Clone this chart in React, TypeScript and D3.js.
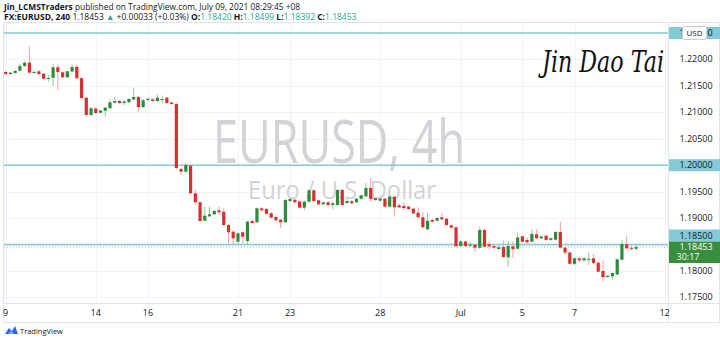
import React from 'react';
import * as d3 from 'd3';

// EURUSD 4h bars, Jun 9 2021 (index 0) .. Jul 9 2021 05:00 (+08)
const opens = [
  1.21762, 1.21724, 1.21743, 1.21786, 1.21875, 1.21938, 1.21749, 1.21775, 1.21730, 1.21635,
  1.21654, 1.21851, 1.21756, 1.21662, 1.21771, 1.21860, 1.21645, 1.21276, 1.20949, 1.21072,
  1.20992, 1.21028, 1.21078, 1.21182, 1.21214, 1.21176, 1.21191, 1.21242, 1.21289, 1.21100,
  1.21233, 1.21246, 1.21214, 1.21233, 1.21276, 1.21185, 1.21157, 1.19928, 1.19877, 1.19991,
  1.19469, 1.19299, 1.18951, 1.19034, 1.19072, 1.19148, 1.19121, 1.18870, 1.18743, 1.18554,
  1.18732, 1.18567, 1.18945, 1.18921, 1.19185, 1.19172, 1.19091, 1.19021, 1.18970, 1.18921,
  1.19323, 1.19348, 1.19314, 1.19197, 1.19310, 1.19526, 1.19337, 1.19261, 1.19299, 1.19248,
  1.19248, 1.19531, 1.19286, 1.19318, 1.19299, 1.19367, 1.19412, 1.19569, 1.19374, 1.19329,
  1.19367, 1.19216, 1.19405, 1.19242, 1.19229, 1.19216, 1.19178, 1.19102, 1.19015, 1.18788,
  1.18964, 1.18951, 1.19015, 1.18989, 1.18864, 1.18826, 1.18473, 1.18558, 1.18482, 1.18497,
  1.18441, 1.18775, 1.18505, 1.18473, 1.18416, 1.18454, 1.18259, 1.18467, 1.18422, 1.18656,
  1.18587, 1.18554, 1.18694, 1.18618, 1.18667, 1.18587, 1.18592, 1.18737, 1.18441, 1.18350,
  1.18136, 1.18240, 1.18202, 1.18214, 1.18240, 1.18157, 1.18000, 1.17887, 1.17900, 1.17934,
  1.18214, 1.18505, 1.18441, 1.18420,
];
const highs = [
  1.21781, 1.21762, 1.21800, 1.21913, 1.21970, 1.22235, 1.21781, 1.21790, 1.21743, 1.21705,
  1.21913, 1.21904, 1.21771, 1.21790, 1.21904, 1.21904, 1.21658, 1.21289, 1.21100, 1.21091,
  1.21044, 1.21100, 1.21252, 1.21289, 1.21233, 1.21233, 1.21270, 1.21465, 1.21308, 1.21252,
  1.21270, 1.21261, 1.21340, 1.21318, 1.21289, 1.21204, 1.21176, 1.19947, 1.20042, 1.20023,
  1.19531, 1.19314, 1.19216, 1.19216, 1.19153, 1.19216, 1.19185, 1.18889, 1.18766, 1.18728,
  1.18747, 1.18955, 1.18964, 1.19200, 1.19210, 1.19191, 1.19115, 1.19040, 1.18983, 1.19361,
  1.19380, 1.19361, 1.19333, 1.19333, 1.19541, 1.19541, 1.19352, 1.19314, 1.19314, 1.19304,
  1.19550, 1.19550, 1.19361, 1.19342, 1.19380, 1.19446, 1.19664, 1.19752, 1.19390, 1.19380,
  1.19380, 1.19418, 1.19418, 1.19280, 1.19291, 1.19229, 1.19191, 1.19204, 1.19121, 1.19102,
  1.18983, 1.19021, 1.19091, 1.19002, 1.18879, 1.18841, 1.18577, 1.18577, 1.18548, 1.18510,
  1.18837, 1.18794, 1.18554, 1.18492, 1.18501, 1.18573, 1.18567, 1.18567, 1.18728, 1.18671,
  1.18637, 1.18788, 1.18788, 1.18671, 1.18681, 1.18633, 1.18756, 1.18940, 1.18454, 1.18359,
  1.18255, 1.18259, 1.18270, 1.18354, 1.18321, 1.18189, 1.18208, 1.17924, 1.17972, 1.18236,
  1.18586, 1.18671, 1.18492, 1.18499,
];
const lows = [
  1.21705, 1.21705, 1.21724, 1.21771, 1.21856, 1.21734, 1.21734, 1.21705, 1.21611, 1.21573,
  1.21497, 1.21422, 1.21649, 1.21649, 1.21762, 1.21630, 1.21252, 1.20911, 1.20930, 1.20968,
  1.20977, 1.20917, 1.21062, 1.21166, 1.21157, 1.21138, 1.21176, 1.21233, 1.21011, 1.21081,
  1.21214, 1.21195, 1.21195, 1.21176, 1.21157, 1.21138, 1.19928, 1.19815, 1.19862, 1.19456,
  1.19248, 1.18926, 1.18945, 1.19021, 1.19059, 1.19059, 1.18851, 1.18529, 1.18492, 1.18492,
  1.18524, 1.18510, 1.18889, 1.18907, 1.19125, 1.19068, 1.18993, 1.18945, 1.18813, 1.18907,
  1.19304, 1.19286, 1.19182, 1.19153, 1.19295, 1.19304, 1.19248, 1.19248, 1.19229, 1.19163,
  1.19229, 1.19229, 1.19267, 1.19267, 1.19286, 1.19342, 1.19399, 1.19310, 1.19327, 1.19314,
  1.19200, 1.19200, 1.19027, 1.19191, 1.19153, 1.19153, 1.19078, 1.19002, 1.18813, 1.18775,
  1.18917, 1.18936, 1.18964, 1.18851, 1.18803, 1.18454, 1.18454, 1.18454, 1.18454, 1.18365,
  1.18416, 1.18444, 1.18410, 1.18416, 1.18397, 1.18246, 1.18076, 1.18251, 1.18406, 1.18539,
  1.18492, 1.18539, 1.18605, 1.18605, 1.18567, 1.18567, 1.18577, 1.18425, 1.18316, 1.18123,
  1.18104, 1.18165, 1.18176, 1.18113, 1.18132, 1.17972, 1.17802, 1.17868, 1.17836, 1.17919,
  1.18199, 1.18416, 1.18388, 1.18392,
];
const closes = [
  1.21724, 1.21749, 1.21781, 1.21875, 1.21938, 1.21749, 1.21762, 1.21724, 1.21635, 1.21649,
  1.21851, 1.21762, 1.21662, 1.21775, 1.21856, 1.21645, 1.21270, 1.20949, 1.21076, 1.20987,
  1.21034, 1.21087, 1.21189, 1.21214, 1.21176, 1.21204, 1.21252, 1.21289, 1.21100, 1.21227,
  1.21257, 1.21214, 1.21276, 1.21252, 1.21176, 1.21157, 1.19947, 1.19877, 1.20004, 1.19469,
  1.19299, 1.18945, 1.19045, 1.19072, 1.19134, 1.19110, 1.18870, 1.18732, 1.18618, 1.18713,
  1.18648, 1.18932, 1.18907, 1.19185, 1.19148, 1.19083, 1.19008, 1.18959, 1.18921, 1.19342,
  1.19361, 1.19299, 1.19197, 1.19310, 1.19526, 1.19323, 1.19261, 1.19299, 1.19248, 1.19280,
  1.19531, 1.19248, 1.19323, 1.19280, 1.19367, 1.19431, 1.19569, 1.19361, 1.19342, 1.19367,
  1.19216, 1.19405, 1.19204, 1.19204, 1.19191, 1.19172, 1.19091, 1.19015, 1.18826, 1.18951,
  1.18932, 1.19002, 1.18977, 1.18870, 1.18819, 1.18467, 1.18558, 1.18473, 1.18505, 1.18441,
  1.18775, 1.18459, 1.18467, 1.18441, 1.18448, 1.18265, 1.18473, 1.18416, 1.18633, 1.18554,
  1.18543, 1.18700, 1.18618, 1.18652, 1.18587, 1.18618, 1.18737, 1.18441, 1.18350, 1.18136,
  1.18240, 1.18202, 1.18240, 1.18232, 1.18151, 1.17987, 1.17883, 1.17911, 1.17962, 1.18221,
  1.18510, 1.18429, 1.18420, 1.18453,
];

const timeTickIndex = [0, 19, 30, 49, 60, 79, 96, 109, 120, 139];
const timeTickLabels = ['9', '14', '16', '21', '23', '28', 'Jul', '5', '7', '12'];
const priceTicks = [1.175, 1.18, 1.185, 1.19, 1.195, 1.2, 1.205, 1.21, 1.215, 1.22, 1.225];
const levelLines = [1.225, 1.2, 1.185];
const lastPrice = 1.18453;
const countdown = '30:17';

const W = 720;
const H = 341;
const paneL = 3;
const paneR = 668;
const paneT = 22;
const paneB = 303;
const axisB = 322;

const UP = '#2e8b3c';
const DOWN = '#d9302f';
const UP_WICK = '#93c996';
const DOWN_WICK = '#f1a2a6';
const LEVEL = '#84cad8';
const FONT = "'Open Sans', 'Noto Sans', sans-serif";

export default function App() {
  const x = d3.scaleLinear().domain([0, 139]).range([5.7, 664.6]);
  const y = d3.scaleLinear().domain([1.175, 1.225]).range([297.45, 32.95]);
  const fmt = d3.format('.5f');
  const bodyW = 3.2;

  return (
    <svg
      width={W}
      height={H}
      style={{ position: 'absolute', left: 0, top: 0, background: '#fff' }}
      fontFamily={FONT}
    >
      <rect x={0} y={0} width={W} height={H} fill="#fff" />
      {/* header */}
      <text x={4} y={9.5} fontSize={8.4} fill="#131722">
        <tspan fontWeight="bold">Jin_LCMSTraders</tspan>
        <tspan> published on TradingView.com, July 09, 2021 08:29:45 +08</tspan>
      </text>
      <text x={4} y={19.5} fontSize={8.5} fill="#131722">
        <tspan fontWeight="bold">FX:EURUSD, 240</tspan>
        <tspan> 1.18453 </tspan>
        <tspan fill="#22ab94">▲</tspan>
        <tspan> +0.00033 (+0.03%) </tspan>
        <tspan fontWeight="bold">O:</tspan>
        <tspan fill="#22ab94">1.18420 </tspan>
        <tspan fontWeight="bold">H:</tspan>
        <tspan fill="#22ab94">1.18499 </tspan>
        <tspan fontWeight="bold">L:</tspan>
        <tspan fill="#22ab94">1.18392 </tspan>
        <tspan fontWeight="bold">C:</tspan>
        <tspan fill="#22ab94">1.18453</tspan>
      </text>

      {/* frame */}
      <rect x={paneL + 0.5} y={paneT + 0.5} width={W - paneL - 1} height={axisB - paneT} fill="none" stroke="#e0e3eb" />
      <line x1={paneR + 0.5} x2={paneR + 0.5} y1={paneT} y2={axisB} stroke="#e0e3eb" />
      <line x1={paneL} x2={W} y1={paneB + 0.5} y2={paneB + 0.5} stroke="#e0e3eb" />

      {/* grid */}
      {timeTickIndex.map((t) => (
        <line key={'vg' + t} x1={Math.round(x(t)) + 0.5} x2={Math.round(x(t)) + 0.5} y1={paneT + 1} y2={paneB} stroke="#f0f3fa" />
      ))}
      {priceTicks.map((p) => (
        <line key={'hg' + p} x1={paneL + 1} x2={paneR} y1={Math.round(y(p)) + 0.5} y2={Math.round(y(p)) + 0.5} stroke="#f0f3fa" />
      ))}

      {/* watermark */}
      <text x={213} y={163} fontSize={60} fill="#d2d3d6" textLength={252} lengthAdjust="spacingAndGlyphs">
        EURUSD, 4h
      </text>
      <text x={248} y={199} fontSize={25} fill="#d2d3d6" textLength={188} lengthAdjust="spacingAndGlyphs">
        Euro / U.S. Dollar
      </text>

      {/* signature */}
      <text x={542} y={72} fontSize={30} fontStyle="italic" fill="#111" fontFamily="'DejaVu Serif', serif" textLength={122} lengthAdjust="spacingAndGlyphs">
        Jin Dao Tai
      </text>

      {/* level lines */}
      {levelLines.map((p) => (
        <line key={'lv' + p} x1={paneL + 1} x2={paneR} y1={y(p)} y2={y(p)} stroke={LEVEL} strokeWidth={1.6} />
      ))}

      {/* last price dotted line */}
      <line x1={paneL + 1} x2={paneR} y1={y(lastPrice)} y2={y(lastPrice)} stroke={UP} strokeOpacity={0.45} strokeDasharray="1 2" />

      {/* candles */}
      {closes.map((c, i) => {
        const o = opens[i];
        const up = c >= o;
        const cx = x(i);
        const top = y(Math.max(o, c));
        const bot = y(Math.min(o, c));
        return (
          <g key={'c' + i}>
            <line x1={cx} x2={cx} y1={y(highs[i])} y2={y(lows[i])} stroke={up ? UP_WICK : DOWN_WICK} strokeWidth={1} />
            <rect x={cx - bodyW / 2} y={top} width={bodyW} height={Math.max(1, bot - top)} fill={up ? UP : DOWN} />
          </g>
        );
      })}

      {/* price axis labels */}
      {priceTicks
        .filter((p) => !levelLines.includes(p))
        .map((p) => (
          <text key={'pl' + p} x={696} y={y(p) + 3} fontSize={9} fill="#131722" textAnchor="middle">
            {fmt(p)}
          </text>
        ))}
      {/* level labels */}
      {levelLines.map((p) => {
        const cy = p === 1.185 ? 235.5 : y(p);
        return (
          <g key={'ll' + p}>
            <rect x={paneR + 1} y={cy - 6} width={W - paneR - 1} height={12} fill={LEVEL} />
            <text x={696} y={cy + 3.2} fontSize={9} fill="#131722" textAnchor="middle">
              {fmt(p)}
            </text>
          </g>
        );
      })}
      {/* last price label */}
      <rect x={paneR + 1} y={241.5} width={W - paneR - 1} height={21.5} fill="#388e3c" />
      <text x={696} y={y(lastPrice) + 3} fontSize={9} fill="#fff" textAnchor="middle">
        {fmt(lastPrice)}
      </text>
      <text x={688} y={260} fontSize={9} fill="#fff" textAnchor="middle">
        {countdown}
      </text>

      {/* currency box */}
      <rect x={682.5} y={26.5} width={24} height={13} rx={2} fill="#fff" stroke="#c9ccd4" />
      <text x={694.5} y={36} fontSize={8} fill="#131722" textAnchor="middle">USD</text>

      {/* time axis labels */}
      {timeTickIndex.map((t, k) => (
        <text key={'tl' + t} x={x(t)} y={315.5} fontSize={9} fill="#131722" textAnchor="middle">
          {timeTickLabels[k]}
        </text>
      ))}

      {/* TradingView logo */}
      <g transform="translate(5,326)">
        <path d="M0 8 L4 2 L7 5 L10 0 L13 8 Z" fill="#2962ff" />
        <path d="M3 8 L6.5 4 L9 8 Z" fill="#7aa6ff" />
      </g>
      <text x={20} y={334} fontSize={7.5} fill="#131722">TradingView</text>
    </svg>
  );
}
